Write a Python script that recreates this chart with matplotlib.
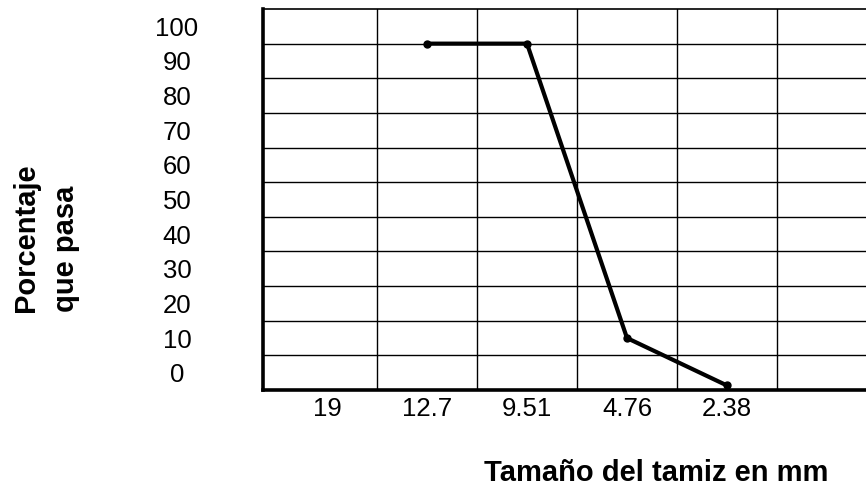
import matplotlib
matplotlib.use('Agg')
import matplotlib.pyplot as plt
import numpy as np

plt.rcParams['font.family'] = ['Liberation Sans', 'DejaVu Sans']

# ── Data ──────────────────────────────────────────────────────────────────────
sieve_labels = ["19", "12.7", "9.51", "4.76", "2.38"]
pass_values = [None, 100, 100, 15, 1.3]   # porcentaje que pasa (19 sin dato)
y_labels = ["0", "10", "20", "30", "40", "50", "60", "70", "80", "90", "100"]

fig = plt.figure(figsize=(8.66, 4.90), dpi=100)
fig.patch.set_facecolor("white")
ax = fig.add_axes([263 / 866, 100 / 490, 603 / 866, 381 / 490])

x_idx = np.arange(len(sieve_labels))
pts = [(i, v) for i, v in zip(x_idx, pass_values) if v is not None]
px, py = zip(*pts)
ax.plot(px, py, color="black", lw=3.0, marker="o", ms=5, zorder=5,
        clip_on=False)

ax.set_xlim(-0.64, 5.39)
ax.set_ylim(0, 110)

# ── Ticks ─────────────────────────────────────────────────────────────────────
ax.set_xticks(x_idx, sieve_labels, fontsize=18.5)
ax.set_yticks(np.arange(len(y_labels)) * 10 + 5, y_labels, fontsize=18.5)
ax.tick_params(axis="both", length=0)
ax.tick_params(axis="x", pad=5)
ax.tick_params(axis="y", pad=62)
for t in ax.get_yticklabels():
    t.set_horizontalalignment("center")

# grid lines between categories / rows
ax.set_xticks(np.arange(len(sieve_labels)) + 0.5, minor=True)
ax.set_yticks(np.arange(10, 110, 10), minor=True)
ax.tick_params(which="minor", length=0)
ax.grid(which="minor", color="black", lw=1.0)
ax.grid(which="major", visible=False)

for side in ["left", "bottom"]:
    ax.spines[side].set_linewidth(2.6)
ax.spines["top"].set_linewidth(1.2)
ax.spines["right"].set_visible(False)

# ── Axis titles ───────────────────────────────────────────────────────────────
fig.text(656 / 866, 1 - 473 / 490, "Tamaño del tamiz en mm",
         ha="center", va="center", fontsize=21, fontweight="bold")
fig.text(46 / 866, 1 - 238 / 490, "Porcentaje\nque pasa", rotation=90,
         ha="center", va="center", multialignment="left",
         fontsize=21, fontweight="bold", linespacing=1.55)

fig.savefig("out.png", dpi=100, facecolor="white")
plt.close(fig)
